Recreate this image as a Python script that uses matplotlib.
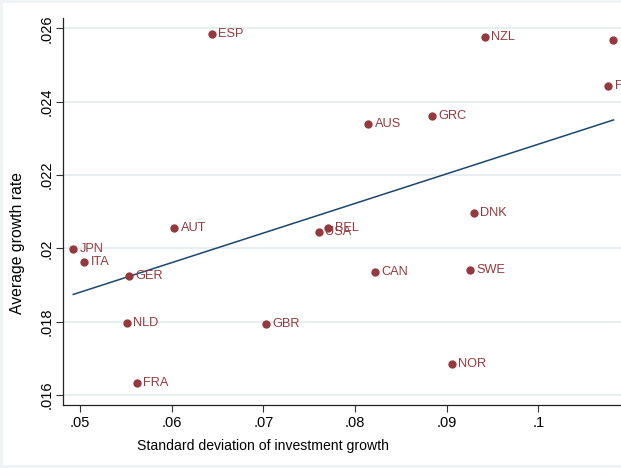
import numpy as np
import matplotlib
matplotlib.use("Agg")
import matplotlib.pyplot as plt
from matplotlib.lines import Line2D

# country codes, std. dev. of investment growth, average growth rate
countries = ["JPN", "ITA", "GER", "NLD", "FRA", "AUT", "ESP", "GBR", "USA", "BEL",
             "AUS", "CAN", "GRC", "NZL", "DNK", "SWE", "NOR", "FIN", "IRL"]
sd_invest = [0.04927, 0.05047, 0.05538, 0.05509, 0.05619, 0.06029, 0.06437, 0.07026, 0.07607, 0.07709,
             0.08145, 0.08218, 0.08843, 0.09418, 0.09298, 0.09258, 0.09055, 0.10763, 0.10818]
avg_growth = [0.01997, 0.01962, 0.01924, 0.01795, 0.01632, 0.02056, 0.02584, 0.01793, 0.02044, 0.02056,
              0.02338, 0.01935, 0.02361, 0.02575, 0.02095, 0.01941, 0.01684, 0.02443, 0.02568]

xticks = [0.05, 0.06, 0.07, 0.08, 0.09, 0.10]
xticklabels = [".05", ".06", ".07", ".08", ".09", ".1"]
yticks = [0.016, 0.018, 0.020, 0.022, 0.024, 0.026]
yticklabels = [".016", ".018", ".02", ".022", ".024", ".026"]

plt.rcParams["font.family"] = ["Liberation Sans", "DejaVu Sans"]

marker_col = "#943a3e"
line_col = "#1a476f"
grid_col = "#e8eff1"

W, H = 621, 468
fig = plt.figure(figsize=(W / 100, H / 100), dpi=100)
ax = fig.add_axes([63.3 / W, 63 / H, (W - 63.3) / W, 386.7 / H])

ax.set_xlim(0.04818, 0.10900)
ax.set_ylim(0.015727, 0.026273)

# fitted line over the data range
x = np.array(sd_invest)
y = np.array(avg_growth)
b, a = np.polyfit(x, y, 1)
xs = np.array([x.min(), x.max()])
ax.plot(xs, a + b * xs, color=line_col, lw=1.1, zorder=2)

ax.plot(x, y, "o", color=marker_col, ms=6, mew=0, zorder=3)
for c, xi, yi in zip(countries, x, y):
    ax.annotate(c, (xi, yi), xytext=(4.6, 0), textcoords="offset points",
                va="center", ha="left", fontsize=9.2, color=marker_col,
                clip_on=True, zorder=3)

ax.set_xticks(xticks)
ax.set_xticklabels(xticklabels)
ax.set_yticks(yticks)
ax.set_yticklabels(yticklabels, rotation=90, va="center")
ax.tick_params(axis="both", direction="out", length=4.8, width=0.8,
               labelsize=10.5, color="#333333", pad=3)
ax.tick_params(axis="y", pad=2)
ax.grid(axis="y", color=grid_col, lw=1.5)
ax.set_axisbelow(True)

for s in ["top", "right"]:
    ax.spines[s].set_visible(False)
for s in ["left", "bottom"]:
    ax.spines[s].set_color("#222222")
    ax.spines[s].set_linewidth(0.9)

ax.set_xlabel("Standard deviation of investment growth", fontsize=10.1, labelpad=3)
ax.set_ylabel("Average growth rate", fontsize=11.3, labelpad=4)
ax.xaxis.set_label_coords((263 - 63.3) / (W - 63.3), -(439 - 405) / 386.7)
ax.yaxis.set_label_coords(-(63.3 - 25) / (W - 63.3), (405 - 243) / 386.7)

# thin frame around the graph region
frame_col = "#eef3f5"
fig.add_artist(Line2D([0, 1], [0.997, 0.997], color=frame_col, lw=2, transform=fig.transFigure))
fig.add_artist(Line2D([0, 1], [0.004, 0.004], color=frame_col, lw=2, transform=fig.transFigure))
fig.add_artist(Line2D([0.002, 0.002], [0, 1], color=frame_col, lw=2, transform=fig.transFigure))

fig.savefig("out.png", dpi=100)
